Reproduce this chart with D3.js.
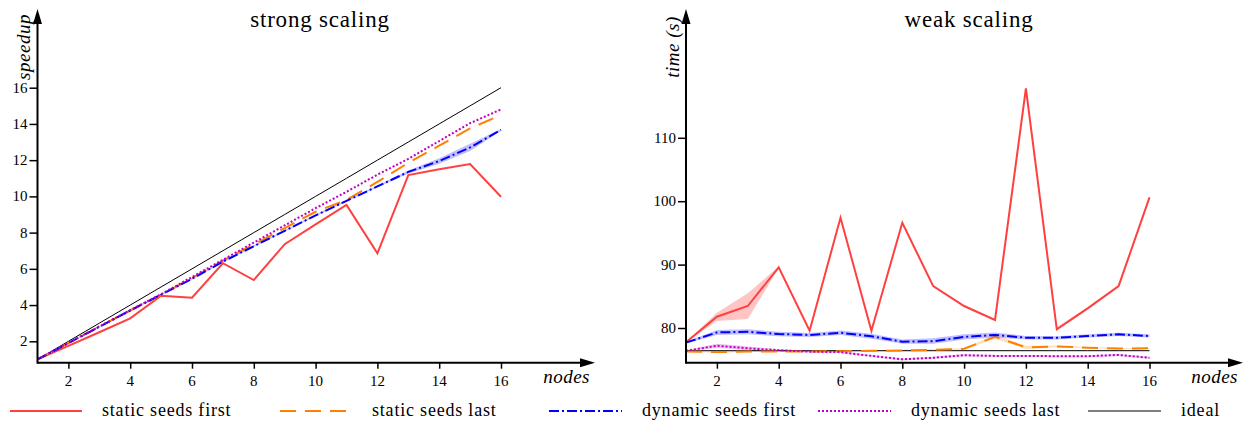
<!doctype html>
<html><head><meta charset="utf-8"><script src="https://d3js.org/d3.v7.min.js"></script></head>
<body style="margin:0">
<svg width="1248" height="422"></svg>
<script>

    // data
    var nodes = [1, 2, 3, 4, 5, 6, 7, 8, 9, 10, 11, 12, 13, 14, 15, 16];

    var strongIdeal       = [1, 2, 3, 4, 5, 6, 7, 8, 9, 10, 11, 12, 13, 14, 15, 16];
    var strongStaticFirst = [1, 1.75, 2.5, 3.27, 4.52, 4.41, 6.31, 5.38, 7.36, 8.45, 9.53, 6.86, 11.18, 11.5, 11.79, 9.98];
    var strongStaticLast  = [1, 1.9, 2.8, 3.7, 4.55, 5.5, 6.45, 7.35, 8.25, 9.15, 9.8, 10.8, 11.85, 12.8, 13.75, 14.5];
    var strongDynFirst    = [1, 1.9, 2.8, 3.7, 4.58, 5.45, 6.4, 7.25, 8.1, 8.95, 9.75, 10.55, 11.35, 11.95, 12.7, 13.67];
    var strongDynFirstLo  = [1, 1.86, 2.76, 3.65, 4.53, 5.4, 6.35, 7.2, 8.05, 8.9, 9.7, 10.5, 11.27, 11.8, 12.5, 13.62];
    var strongDynFirstHi  = [1, 1.94, 2.84, 3.75, 4.63, 5.5, 6.45, 7.3, 8.15, 9.0, 9.8, 10.6, 11.43, 12.1, 12.9, 13.72];
    var strongDynLast     = [1, 1.92, 2.82, 3.72, 4.6, 5.55, 6.5, 7.45, 8.4, 9.35, 10.25, 11.2, 12.07, 13.05, 14.04, 14.8];

    var weakIdeal         = [76.42, 76.42, 76.42, 76.42, 76.42, 76.42, 76.42, 76.42, 76.42, 76.42, 76.42, 76.42, 76.42, 76.42, 76.42, 76.42];
    var weakStaticFirst   = [77.74, 81.78, 83.47, 89.57, 79.57, 97.4, 79.57, 96.6, 86.6, 83.47, 81.26, 117.8, 79.8, 83.1, 86.6, 100.6];
    var weakStaticFirstLo = [77.7, 81.1, 81.4, 89.5, 79.5, 97.3, 79.5, 96.5, 86.5, 83.3, 81.2, 117.7, 79.6, 83.0, 86.5, 100.5];
    var weakStaticFirstHi = [77.8, 82.4, 85.5, 89.7, 79.65, 97.5, 79.65, 96.7, 86.7, 83.6, 81.35, 117.9, 80.1, 83.3, 86.7, 100.7];
    var weakStaticLast    = [76.3, 76.2, 76.3, 76.3, 76.3, 76.35, 76.4, 76.45, 76.55, 76.72, 78.6, 76.95, 77.1, 76.9, 76.75, 76.8];
    var weakStaticLastLo  = [76.2, 76.1, 76.2, 76.2, 76.2, 76.25, 76.3, 76.35, 76.45, 76.6, 78.3, 76.7, 76.95, 76.8, 76.65, 76.7];
    var weakStaticLastHi  = [76.4, 76.3, 76.4, 76.4, 76.4, 76.45, 76.5, 76.55, 76.65, 76.85, 78.9, 77.2, 77.25, 77.0, 76.85, 76.9];
    var weakDynFirst      = [77.7, 79.3, 79.4, 79.05, 78.9, 79.25, 78.7, 77.85, 77.9, 78.6, 78.9, 78.47, 78.45, 78.74, 79.0, 78.74];
    var weakDynFirstLo    = [77.6, 78.9, 79.0, 78.7, 78.6, 78.9, 78.3, 77.5, 77.5, 78.2, 78.5, 78.2, 78.2, 78.5, 78.75, 78.5];
    var weakDynFirstHi    = [77.8, 79.7, 79.8, 79.4, 79.2, 79.6, 79.1, 78.2, 78.4, 79.0, 79.3, 78.75, 78.7, 79.0, 79.25, 79.0];
    var weakDynLast       = [76.4, 77.2, 76.8, 76.5, 76.26, 76.2, 75.6, 75.06, 75.3, 75.7, 75.6, 75.6, 75.55, 75.55, 75.75, 75.3];
    var weakDynLastLo     = [76.3, 76.9, 76.5, 76.35, 76.12, 76.06, 75.46, 74.92, 75.15, 75.55, 75.46, 75.46, 75.4, 75.4, 75.6, 75.15];
    var weakDynLastHi     = [76.5, 77.5, 77.1, 76.65, 76.4, 76.34, 75.74, 75.2, 75.45, 75.85, 75.74, 75.74, 75.7, 75.7, 75.9, 75.45];

    var strongYTicks = [2, 4, 6, 8, 10, 12, 14, 16];
    var weakYTicks   = [80, 90, 100, 110];
    var xTicks       = [2, 4, 6, 8, 10, 12, 14, 16];

    var legendLabels = ["static seeds first", "static seeds last", "dynamic seeds first", "dynamic seeds last", "ideal"];

    var serif = "'Liberation Serif'";

    var styles = {
        staticFirst: { color: "#ff4040", dash: null,        width: 2 },
        staticLast:  { color: "#ff8000", dash: "16,9",      width: 2 },
        dynFirst:    { color: "#0000ff", dash: "10,3,2,3",  width: 2 },
        dynLast:     { color: "#bf00bf", dash: "2,2",       width: 2 },
        ideal:       { color: "#000000", dash: null,        width: 1 }
    };

    var svg = d3.select("svg");
    var axisY = 362.7;

    // plain text helper, so every label gets its font set inline
    function label(parent, str, size) {
        return parent.append("text")
            .style("font-family", serif)
            .style("font-size", size + "px")
            .text(str);
    }

    function drawPanel(p) {
        var x = d3.scaleLinear().domain([1, 16]).range([p.x0, p.x16]);
        var y = d3.scaleLinear().domain(p.yDom).range(p.yRange);
        var g = svg.append("g");

        var area = function(lo, hi) {
            return d3.area()
                .x(function(d, i) { return x(nodes[i]); })
                .y0(function(d, i) { return y(lo[i]); })
                .y1(function(d, i) { return y(hi[i]); })(lo);
        };
        var line = function(vals) {
            return d3.line()
                .x(function(d, i) { return x(nodes[i]); })
                .y(function(d) { return y(d); })(vals);
        };

        p.bands.forEach(function(b) {
            g.append("path").attr("d", area(b.lo, b.hi))
             .attr("fill", b.fill).attr("stroke", "none");
        });

        p.series.forEach(function(s) {
            var st = styles[s.key];
            g.append("path").attr("d", line(s.values))
             .attr("fill", "none")
             .attr("stroke", st.color)
             .attr("stroke-width", st.width)
             .attr("stroke-dasharray", st.dash);
        });

        // ticks from d3 axes, text redrawn by hand
        var xa = g.append("g").attr("transform", "translate(0," + axisY + ")")
            .call(d3.axisBottom(x).tickValues(xTicks).tickSize(6).tickFormat(""));
        var ya = g.append("g").attr("transform", "translate(" + p.x0 + ",0)")
            .call(d3.axisLeft(y).tickValues(p.yTicks).tickSize(8).tickFormat(""));
        [xa, ya].forEach(function(a) {
            a.select(".domain").remove();
            a.selectAll(".tick text").remove();
            a.selectAll(".tick line").attr("stroke", "#000").attr("stroke-width", 1.5);
        });
        xTicks.forEach(function(t) {
            label(g, t, 15).attr("x", x(t)).attr("y", axisY + 23).attr("text-anchor", "middle");
        });
        p.yTicks.forEach(function(t) {
            label(g, t, 15).attr("x", p.x0 - 10).attr("y", y(t) + 5).attr("text-anchor", "end");
        });

        g.append("line").attr("x1", p.x0).attr("x2", p.xEnd - 12)
         .attr("y1", axisY).attr("y2", axisY).attr("stroke", "#000").attr("stroke-width", 2);
        g.append("line").attr("x1", p.x0).attr("x2", p.x0)
         .attr("y1", axisY + 1).attr("y2", 22).attr("stroke", "#000").attr("stroke-width", 2);
        g.append("path")
         .attr("d", "M" + p.xEnd + "," + axisY + "L" + (p.xEnd - 15) + "," + (axisY - 4.5) +
                    "L" + (p.xEnd - 15) + "," + (axisY + 4.5) + "Z");
        g.append("path")
         .attr("d", "M" + p.x0 + ",9L" + (p.x0 - 4.5) + ",24L" + (p.x0 + 4.5) + ",24Z");

        label(g, p.title, 23).style("letter-spacing", "0.8px")
         .attr("x", p.titleX).attr("y", 27).attr("text-anchor", "middle");
        label(g, "nodes", 19).style("font-style", "italic").style("letter-spacing", "0.5px")
         .attr("x", p.xEnd - 5).attr("y", 383).attr("text-anchor", "end");
        label(g, p.yLabel, 19).style("font-style", "italic").style("letter-spacing", "0.5px")
         .attr("transform", "translate(" + p.yLabelX + ",47) rotate(-90)")
         .attr("text-anchor", "middle");
    }

    drawPanel({
        x0: 37.5, x16: 501, xEnd: 595,
        yDom: [2, 16], yRange: [341.3, 87.7], yTicks: strongYTicks,
        title: "strong scaling", titleX: 320,
        yLabel: "speedup", yLabelX: 30,
        bands: [
            { lo: strongDynFirstLo, hi: strongDynFirstHi, fill: "rgba(0,0,255,0.25)" }
        ],
        series: [
            { key: "ideal", values: strongIdeal },
            { key: "staticFirst", values: strongStaticFirst },
            { key: "staticLast", values: strongStaticLast },
            { key: "dynFirst", values: strongDynFirst },
            { key: "dynLast", values: strongDynLast }
        ]
    });

    drawPanel({
        x0: 686, x16: 1149.5, xEnd: 1243,
        yDom: [80, 110], yRange: [328, 137.8], yTicks: weakYTicks,
        title: "weak scaling", titleX: 969,
        yLabel: "time  (s)", yLabelX: 679,
        bands: [
            { lo: weakStaticFirstLo, hi: weakStaticFirstHi, fill: "rgba(255,64,64,0.3)" },
            { lo: weakStaticLastLo, hi: weakStaticLastHi, fill: "rgba(255,128,0,0.25)" },
            { lo: weakDynFirstLo, hi: weakDynFirstHi, fill: "rgba(0,0,255,0.25)" },
            { lo: weakDynLastLo, hi: weakDynLastHi, fill: "rgba(191,0,191,0.25)" }
        ],
        series: [
            { key: "ideal", values: weakIdeal },
            { key: "staticFirst", values: weakStaticFirst },
            { key: "staticLast", values: weakStaticLast },
            { key: "dynFirst", values: weakDynFirst },
            { key: "dynLast", values: weakDynLast }
        ]
    });

    // legend
    var legendKeys = ["staticFirst", "staticLast", "dynFirst", "dynLast", "ideal"];
    var legendPos = [[10, 82, 102], [280, 353, 372], [549, 622, 642], [818, 891, 911], [1088, 1161, 1181]];
    var lg = svg.append("g");
    legendKeys.forEach(function(k, i) {
        var st = styles[k], pos = legendPos[i];
        lg.append("line").attr("x1", pos[0]).attr("x2", pos[1])
          .attr("y1", 411).attr("y2", 411)
          .attr("stroke", st.color).attr("stroke-width", st.width === 1 ? 1.2 : 2)
          .attr("stroke-dasharray", st.dash);
        label(lg, legendLabels[i], 18).style("letter-spacing", "0.8px")
          .attr("x", pos[2]).attr("y", 416);
    });

</script>
</body>
</html>
